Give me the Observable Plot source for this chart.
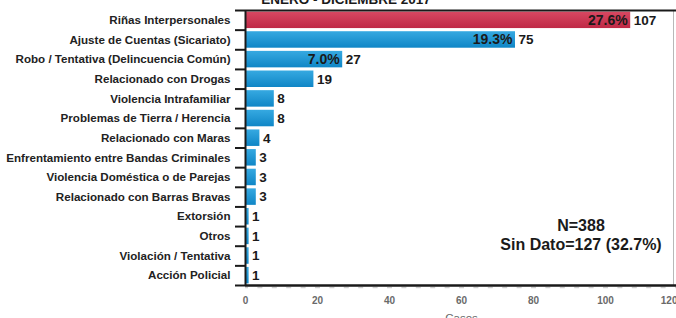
<!DOCTYPE html>
<html><head><meta charset="utf-8">
<script src="https://cdn.jsdelivr.net/npm/d3@7"></script>
<script src="https://cdn.jsdelivr.net/npm/@observablehq/plot@0.6"></script>
<style>
body{margin:0;background:#fff;font-family:"Liberation Sans",Arial,sans-serif}
#wrap{position:relative;width:676px;height:318px;overflow:hidden;background:#fff}
#title{position:absolute;left:246px;width:200px;top:-7.4px;text-align:center;font:bold 13.5px/13.5px "Liberation Sans",Arial,sans-serif;color:#1a1a1a;white-space:nowrap;z-index:2}
#chart{position:absolute;left:0;top:0}
</style></head><body>
<div id="wrap"><div id="title"></div><div id="chart"></div></div>
<script>
const title = "ENERO - DICIEMBRE 2017";
const categories = [
  "Riñas Interpersonales",
  "Ajuste de Cuentas (Sicariato)",
  "Robo / Tentativa (Delincuencia Común)",
  "Relacionado con Drogas",
  "Violencia Intrafamiliar",
  "Problemas de Tierra / Herencia",
  "Relacionado con Maras",
  "Enfrentamiento entre Bandas Criminales",
  "Violencia Doméstica o de Parejas",
  "Relacionado con Barras Bravas",
  "Extorsión",
  "Otros",
  "Violación / Tentativa",
  "Acción Policial"
];
const counts = [107, 75, 27, 19, 8, 8, 4, 3, 3, 3, 1, 1, 1, 1];
const percents = [27.6, 19.3, 7.0];
const xTicks = [0, 20, 40, 60, 80, 100, 120];
const axisLabel = "Casos";
const note = ["N=388", "Sin Dato=127 (32.7%)"];

document.getElementById("title").textContent = title;

const data = categories.map((c, i) => ({cat: c, n: counts[i], pct: i < percents.length ? percents[i] : null, i}));
const W = 676, H = 318, mt = 10, mb = 33, ml = 245, mr = -1;
const step = (H - mt - mb) / categories.length;
const first = categories[0], last = categories[categories.length - 1];
const ink = "#1a1a1a";

const chart = Plot.plot({
  width: W, height: H,
  marginTop: mt, marginBottom: mb, marginLeft: ml, marginRight: mr,
  style: {fontFamily: "'Liberation Sans', Arial, sans-serif", background: "transparent", overflow: "visible"},
  x: {domain: [0, 120], axis: null},
  y: {domain: categories, paddingInner: 0.16, paddingOuter: 0.08, round: false, axis: null},
  marks: [
    Plot.barX(data.filter(d => d.i > 0), {x: "n", y: "cat", fill: "url(#gBlue)"}),
    Plot.barX(data.filter(d => d.i === 0), {x: "n", y: "cat", fill: "url(#gRed)"}),
    // frame pieces
    Plot.ruleX([120], {dx: -4, stroke: "#b8b8b8", strokeWidth: 1}),
    Plot.ruleY([first], {y: d => d, dy: -step / 2, stroke: ink, strokeWidth: 2}),
    Plot.ruleY([last], {y: d => d, dy: step / 2 + 2, stroke: "#cfcfcf", strokeWidth: 1.5, strokeDasharray: "5 9.4", strokeDashoffset: 2}),
    Plot.ruleY([last], {y: d => d, dy: step / 2, stroke: ink, strokeWidth: 2.5}),
    Plot.ruleX([0], {stroke: ink, strokeWidth: 2}),
    // y axis boundary ticks
    Plot.axisY({tickSize: 10, tickFormat: () => "", dy: -step / 2, stroke: ink, strokeWidth: 2, label: null}),
    Plot.axisY({ticks: [last], tickSize: 10, tickFormat: () => "", dy: step / 2, stroke: ink, strokeWidth: 2, label: null}),
    // y labels
    Plot.axisY({tickSize: 0, tickPadding: 15, fontSize: 11.6, fontWeight: "bold", fill: "#222", label: null}),
    // x axis labels
    Plot.axisX({ticks: xTicks, tickSize: 0, tickPadding: 11, tickFormat: d => d === 120 ? "" : String(d), fontSize: 10, fontWeight: "bold", fill: "#6a6a6a", label: null}),
    Plot.text(xTicks.filter(d => d === 120), {x: d => d, text: d => String(d), frameAnchor: "bottom", textAnchor: "end", lineAnchor: "top", dy: 11, fontSize: 10, fontWeight: "bold", fill: "#6a6a6a"}),
    Plot.text([axisLabel], {text: d => d, frameAnchor: "bottom", lineAnchor: "top", dy: 28, fontSize: 11.5, fill: "#6a6a6a"}),
    // value labels
    Plot.text(data, {x: "n", y: "cat", text: d => String(d.n), textAnchor: "start", dx: 3, fontSize: 13.5, fontWeight: "bold", fill: ink}),
    Plot.text(data.filter(d => d.pct != null), {x: "n", y: "cat", text: d => d.pct.toFixed(1) + "%", textAnchor: "end", dx: -3, fontSize: 14, fontWeight: "bold", fill: ink}),
    // note
    Plot.text([note.join("\n")], {text: d => d, frameAnchor: "bottom", dx: 119.5, dy: -51.5, lineAnchor: "middle", lineHeight: 1.19, fontSize: 16, fontWeight: "bold", fill: ink})
  ]
});

const defs = d3.select(chart).insert("defs", ":first-child");
const g1 = defs.append("linearGradient").attr("id", "gBlue").attr("x1", 0).attr("y1", 0).attr("x2", 0).attr("y2", 1);
g1.append("stop").attr("offset", "0%").attr("stop-color", "#36a9e1");
g1.append("stop").attr("offset", "100%").attr("stop-color", "#0f86c6");
const g2 = defs.append("linearGradient").attr("id", "gRed").attr("x1", 0).attr("y1", 0).attr("x2", 0).attr("y2", 1);
g2.append("stop").attr("offset", "0%").attr("stop-color", "#d84862");
g2.append("stop").attr("offset", "100%").attr("stop-color", "#bf2946");

document.getElementById("chart").appendChild(chart);
</script>
</body></html>
